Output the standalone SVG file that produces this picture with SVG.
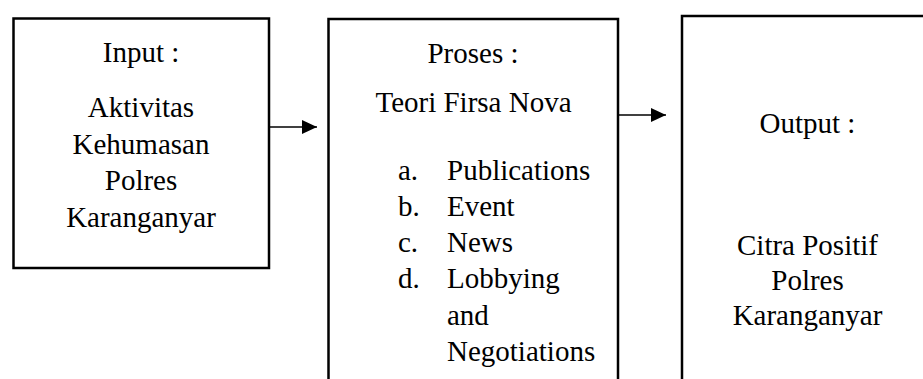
<svg xmlns="http://www.w3.org/2000/svg" width="923" height="379" viewBox="0 0 923 379">
<defs>
<marker id="ah" markerWidth="15" markerHeight="14" refX="15" refY="7" orient="auto" markerUnits="userSpaceOnUse">
<path d="M0,0 L15,7 L0,14 Z" fill="#000"/>
</marker>
</defs>
<rect width="923" height="379" fill="#fff"/>
<g id="input">
<rect x="13.5" y="18.5" width="255.5" height="249.5" fill="#fff" stroke="#000" stroke-width="2.5"/>
<text style="font-family:'Liberation Serif',serif;font-size:29px" text-anchor="middle" x="141" y="62">Input :</text>
<text style="font-family:'Liberation Serif',serif;font-size:29px" text-anchor="middle" x="141" y="117">Aktivitas</text>
<text style="font-family:'Liberation Serif',serif;font-size:29px" text-anchor="middle" x="141" y="153.5">Kehumasan</text>
<text style="font-family:'Liberation Serif',serif;font-size:29px" text-anchor="middle" x="141" y="190">Polres</text>
<text style="font-family:'Liberation Serif',serif;font-size:29px" text-anchor="middle" x="141" y="226.5">Karanganyar</text>
</g>
<g id="proses">
<rect x="328.5" y="19" width="289.5" height="380" fill="#fff" stroke="#000" stroke-width="2.5"/>
<text style="font-family:'Liberation Serif',serif;font-size:29px" text-anchor="middle" x="473" y="63">Proses :</text>
<text style="font-family:'Liberation Serif',serif;font-size:29px" text-anchor="middle" x="473.5" y="112">Teori Firsa Nova</text>
<text style="font-family:'Liberation Serif',serif;font-size:29px" x="398" y="180">a.</text>
<text style="font-family:'Liberation Serif',serif;font-size:29px" x="447" y="180">Publications</text>
<text style="font-family:'Liberation Serif',serif;font-size:29px" x="398" y="216">b.</text>
<text style="font-family:'Liberation Serif',serif;font-size:29px" x="447" y="216">Event</text>
<text style="font-family:'Liberation Serif',serif;font-size:29px" x="398" y="252">c.</text>
<text style="font-family:'Liberation Serif',serif;font-size:29px" x="447" y="252">News</text>
<text style="font-family:'Liberation Serif',serif;font-size:29px" x="398" y="288">d.</text>
<text style="font-family:'Liberation Serif',serif;font-size:29px" x="447" y="288">Lobbying</text>
<text style="font-family:'Liberation Serif',serif;font-size:29px" x="447" y="324.5">and</text>
<text style="font-family:'Liberation Serif',serif;font-size:29px" x="447" y="361">Negotiations</text>
</g>
<g id="output">
<rect x="682" y="16" width="260" height="383" fill="#fff" stroke="#000" stroke-width="2.5"/>
<text style="font-family:'Liberation Serif',serif;font-size:29px" text-anchor="middle" x="807.5" y="133">Output :</text>
<text style="font-family:'Liberation Serif',serif;font-size:29px" text-anchor="middle" x="807.5" y="255">Citra Positif</text>
<text style="font-family:'Liberation Serif',serif;font-size:29px" text-anchor="middle" x="807.5" y="290">Polres</text>
<text style="font-family:'Liberation Serif',serif;font-size:29px" text-anchor="middle" x="807.5" y="325">Karanganyar</text>
</g>
<g id="connectors">
<line x1="269" y1="127" x2="317" y2="127" stroke="#000" stroke-width="1.3" marker-end="url(#ah)"/>
<line x1="618" y1="115" x2="666" y2="115" stroke="#000" stroke-width="1.3" marker-end="url(#ah)"/>
</g>
</svg>
